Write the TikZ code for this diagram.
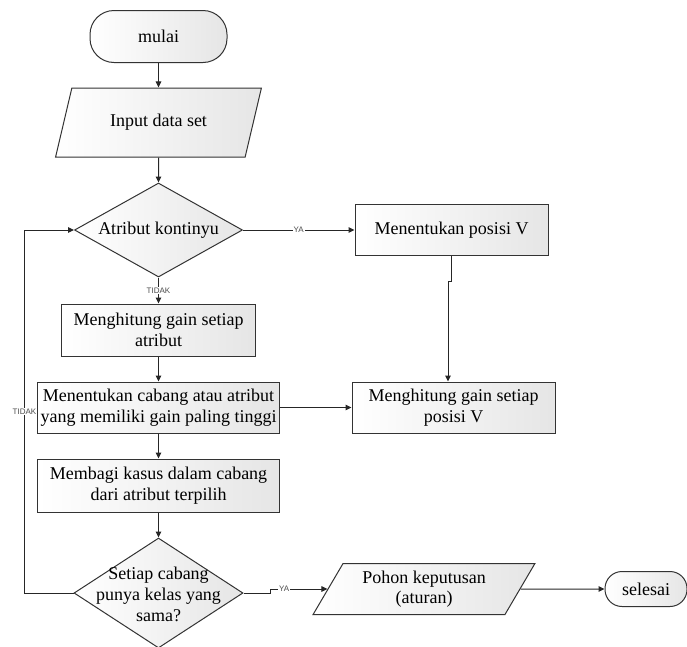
\documentclass[tikz,border=0pt]{standalone}
\usepackage{fontspec}
\setmainfont{Liberation Serif}
\newfontfamily\lblfont{Liberation Sans}
\usetikzlibrary{shapes.geometric,arrows.meta}
\begin{document}
\begin{tikzpicture}[x=1pt,y=-1pt,
  font=\fontsize{18}{20.5}\selectfont,
  line/.style={draw=black!85, line width=1pt},
  arr/.style={line, -{Triangle[length=6pt,width=5.5pt]}},
  shadefill/.style={left color=white, right color=black!10},
  proc/.style={rectangle, draw=black!80, line width=1pt, shadefill, align=center, inner sep=0pt},
  term/.style={rectangle, draw=black!80, line width=1pt, shadefill, inner sep=0pt},
  io/.style={trapezium, trapezium stretches=true, draw=black!80, line width=1pt, shadefill, align=center, inner sep=2pt},
  dec/.style={diamond, draw=black!80, line width=1pt, shadefill, inner sep=0pt},
  dtext/.style={align=center, inner sep=0pt},
  lbl/.style={font=\lblfont\fontsize{8}{9}\selectfont, fill=white, inner sep=1pt, text=black!70}
]
\useasboundingbox (0,0) rectangle (687,646);

\node[term, minimum width=137pt, minimum height=52pt, rounded corners=24pt] (mulai) at (158.5,36.5) {mulai};
\node[io, minimum width=206pt, minimum height=69pt, trapezium left angle=65, trapezium right angle=115] (input) at (158.5,122.5) {Input data set};
\node[dec, minimum width=168pt, minimum height=94pt] (d1) at (158.5,230) {};
\node[dtext] (d1t) at (d1) {Atribut kontinyu};
\node[proc, minimum width=193pt, minimum height=51pt] (b1) at (451.5,230) {Menentukan posisi V};
\node[proc, minimum width=194pt, minimum height=52pt] (b2) at (158.5,330) {Menghitung gain setiap\\atribut};
\node[proc, minimum width=242pt, minimum height=51pt] (b3) at (158.5,407.5) {Menentukan cabang atau atribut\\yang memiliki gain paling tinggi};
\node[proc, minimum width=203pt, minimum height=51pt] (b4) at (453.5,407.5) {Menghitung gain setiap\\posisi V};
\node[proc, minimum width=242pt, minimum height=53pt] (b5) at (158.5,485.5) {Membagi kasus dalam cabang\\dari atribut terpilih};
\node[dec, minimum width=169pt, minimum height=110pt] (d2) at (158.5,593) {};
\node[dtext, font=\fontsize{18}{21}\selectfont] (d2t) at (158.5,594) {Setiap cabang\\punya kelas yang\\sama?};
\node[io, minimum width=222pt, minimum height=51pt, trapezium left angle=60, trapezium right angle=120] (pohon) at (424,589) {Pohon keputusan\\(aturan)};
\node[term, minimum width=82pt, minimum height=35pt, rounded corners=17pt] (selesai) at (646,589) {selesai};

\draw[arr] (mulai) -- (input);
\draw[arr] (input) -- (d1);
\draw[arr] (d1) -- node[lbl] (ya1) {YA} (b1);
\draw[arr] (d1) -- node[lbl] (tidak1) {TIDAK} (b2);
\draw[arr] (b1.south) -- ++(0,25) -| ([xshift=-5.5pt]b4.north);
\draw[arr] (b2) -- (b3);
\draw[arr] (b3) -- (b4);
\draw[arr] (b3) -- (b5);
\draw[arr] (b5) -- (d2);
\draw[arr] (d2.west) -- ++(-49,0) |- node[lbl, pos=0.25] (tidak2) {TIDAK} (d1.west);
\draw[arr] (d2.east) -- ++(27,0) |- node[lbl, pos=0.62] (ya2) {YA} (pohon.west);
\draw[arr] (pohon) -- (selesai);
\end{tikzpicture}
\end{document}
